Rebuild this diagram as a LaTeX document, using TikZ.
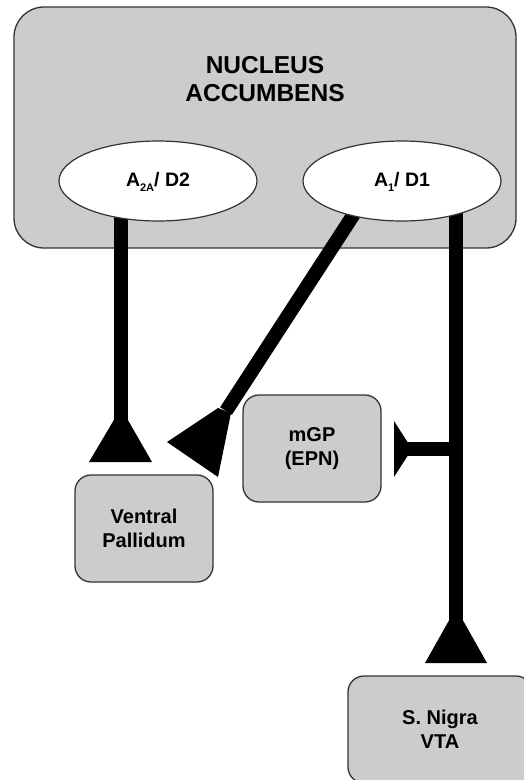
\documentclass[tikz,border=0pt]{standalone}
\usepackage{fontspec}
\setmainfont{Liberation Sans}
\usetikzlibrary{shapes.geometric}
\newcommand{\lowsub}[1]{\raisebox{-5pt}{\fontsize{11}{11}\selectfont#1}}

\begin{document}
\begin{tikzpicture}[x=1pt,y=-1pt,
  region/.style={draw=black!80, line width=1.3pt, fill=black!20, rounded corners=16pt,
    minimum width=138pt, minimum height=107pt, align=center,
    font=\fontsize{20}{24}\selectfont\bfseries},
  receptor/.style={ellipse, draw=black!80, line width=1.2pt, fill=white,
    minimum width=198pt, minimum height=80pt, inner sep=0pt,
    font=\fontsize{19.5}{22}\selectfont\bfseries},
  axon/.style={line width=14pt}]

\useasboundingbox (0,0) rectangle (524,780);
\clip (0,0) rectangle (524,780);

\node[draw=black!80, line width=1.3pt, fill=black!20, rounded corners=30pt,
  minimum width=502pt, minimum height=241pt] (nacc) at (265,127.5) {};
\node[align=center, font=\fontsize{24.5}{28}\selectfont\bfseries] (title) at (265,79) {NUCLEUS\\ACCUMBENS};

\node[region] (vp) at (144,528.5) {Ventral\\Pallidum};
\node[region] (mgp) at (312,448.5) {mGP\\(EPN)};
\node[region, minimum width=184pt] (sn) at (440,729.5) {S. Nigra\\VTA};

\coordinate (d2c) at (158,181);
\coordinate (d1c) at (402,181);
\coordinate (vpend) at (121,420);
\coordinate (vpin) at (226,411);
\coordinate (snend) at (456,620);
\coordinate (branch) at (456,449);
\coordinate (stop) at (404,449);

\draw[axon] (vpend |- d2c) -- (vpend);
\draw[axon] (d1c) ++(-24,-4) -- (vpin);
\draw[axon] (snend |- d1c) -- (snend);
\draw[axon] (branch) -- (stop);

\fill (121,408) -- (152,462) -- (89,462) -- cycle;
\fill (167,442) -- (218,408) -- (231,413) -- (218,477) -- cycle;
\fill (456,608) -- (487,663) -- (425,663) -- cycle;
\fill (394,421) -- (412,449) -- (394,477) -- cycle;

\node[receptor, text depth=4pt] (d2) at (d2c) {A\lowsub{2A}/ D2};
\node[receptor, text depth=4pt] (d1) at (d1c) {A\lowsub{1}/ D1};

\end{tikzpicture}
\end{document}
